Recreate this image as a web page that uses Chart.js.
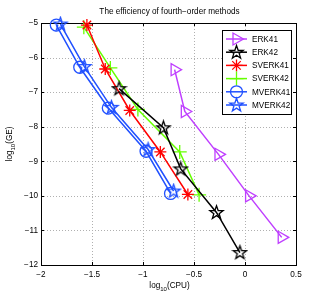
<!DOCTYPE html>
<html>
<head>
<meta charset="utf-8">
<script src="https://cdn.jsdelivr.net/npm/chart.js@4/dist/chart.umd.min.js"></script>
<style>
  html, body { margin: 0; padding: 0; background: #fff; }
  #wrap { width: 327px; height: 300px; position: relative; }
</style>
</head>
<body>
<div id="wrap"><canvas id="chart1"></canvas></div>
<script>
// values (log10 CPU vs log10 GE)
const seriesNames = ["ERK41", "ERK42", "SVERK41", "SVERK42", "MVERK41", "MVERK42"];
const erk41X = [-0.69, -0.59, -0.26, 0.04, 0.36];
const erk41Y = [-6.35, -7.56, -8.8, -10.0, -11.2];
const erk42X = [-1.235, -0.80, -0.63, -0.28, -0.05];
const erk42Y = [-6.9, -8.03, -9.22, -10.48, -11.64];
const sverk41X = [-1.55, -1.37, -1.13, -0.83, -0.56];
const sverk41Y = [-5.06, -6.33, -7.53, -8.73, -9.96];
const sverk42X = [-1.58, -1.32, -1.05, -0.64, -0.45];
const sverk42Y = [-5.12, -6.3, -7.5, -8.73, -9.97];
const mverk41X = [-1.85, -1.62, -1.34, -0.97, -0.73];
const mverk41Y = [-5.06, -6.28, -7.46, -8.71, -9.93];
const mverk42X = [-1.81, -1.575, -1.31, -0.95, -0.70];
const mverk42Y = [-5.03, -6.26, -7.44, -8.66, -9.86];
const xTicks = [-2, -1.5, -1, -0.5, 0, 0.5];
const yTicks = [-12, -11, -10, -9, -8, -7, -6, -5];

const FONT = "'Liberation Sans', Arial, sans-serif";
const colors = ["#bf3fff", "#000000", "#ff0000", "#66ff00", "#2050ff", "#2050ff"];

function pts(xs, ys) {
  return xs.map((x, i) => ({ x: x, y: ys[i] }));
}

// five pointed star marker (chart.js "star" is an asterisk)
function pentagram(color) {
  var c = document.createElement("canvas");
  c.width = 17; c.height = 17;
  var g = c.getContext("2d");
  drawPentagram(g, 8.5, 8.8, 7, color);
  return c;
}
function drawPentagram(g, cx, cy, R, color) {
  var r = R * 0.4;
  g.beginPath();
  for (let i = 0; i < 10; i++) {
    let a = -Math.PI / 2 + i * Math.PI / 5;
    let rr = i % 2 == 0 ? R : r;
    let px = cx + rr * Math.cos(a), py = cy + rr * Math.sin(a);
    if (i == 0) g.moveTo(px, py); else g.lineTo(px, py);
  }
  g.closePath();
  g.strokeStyle = color;
  g.lineWidth = 1.3;
  g.stroke();
}

const blackStar = pentagram(colors[1]);
const blueStar = pentagram(colors[5]);

function ds(i, data, style, radius, rot) {
  return {
    label: seriesNames[i],
    data: data,
    showLine: true,
    borderColor: colors[i],
    backgroundColor: "rgba(0,0,0,0)",
    borderWidth: 1.5,
    pointStyle: style,
    pointRadius: radius,
    pointRotation: rot || 0,
    pointBorderWidth: 1.3,
    pointBorderColor: colors[i],
    pointBackgroundColor: "rgba(0,0,0,0)",
    clip: false
  };
}

function drawMarker(ctx, i, x, y) {
  var c = colors[i];
  ctx.save();
  ctx.strokeStyle = c;
  ctx.lineWidth = 1.3;
  ctx.beginPath();
  if (i == 0) {
    ctx.moveTo(x + 7, y); ctx.lineTo(x - 3.5, y - 6); ctx.lineTo(x - 3.5, y + 6); ctx.closePath();
    ctx.stroke();
  } else if (i == 1 || i == 5) {
    drawPentagram(ctx, x, y + 0.3, 7, c);
  } else if (i == 2) {
    for (let k = 0; k < 4; k++) {
      let a = k * Math.PI / 4;
      ctx.moveTo(x + 6 * Math.cos(a), y + 6 * Math.sin(a));
      ctx.lineTo(x - 6 * Math.cos(a), y - 6 * Math.sin(a));
    }
    ctx.stroke();
  } else if (i == 3) {
    ctx.moveTo(x - 7, y); ctx.lineTo(x + 7, y);
    ctx.moveTo(x, y - 7); ctx.lineTo(x, y + 7);
    ctx.stroke();
  } else if (i == 4) {
    ctx.arc(x, y, 6, 0, Math.PI * 2);
    ctx.stroke();
  }
  ctx.restore();
}

function minus(v) {
  return String(v).replace("-", "\u2212");
}

const framePlugin = {
  id: "frame",
  beforeDatasetsDraw(chart) {
    const ctx = chart.ctx, a = chart.chartArea;
    const xs = chart.scales.x, ys = chart.scales.y;
    ctx.save();
    // dotted grid
    ctx.strokeStyle = "#b0b0b0";
    ctx.lineWidth = 1;
    ctx.setLineDash([1, 2]);
    xTicks.forEach(v => {
      let px = Math.round(xs.getPixelForValue(v)) + 0.5;
      ctx.beginPath(); ctx.moveTo(px, a.top); ctx.lineTo(px, a.bottom); ctx.stroke();
    });
    yTicks.forEach(v => {
      let py = Math.round(ys.getPixelForValue(v)) + 0.5;
      ctx.beginPath(); ctx.moveTo(a.left, py); ctx.lineTo(a.right, py); ctx.stroke();
    });
    ctx.setLineDash([]);
    // inward ticks
    ctx.strokeStyle = "#000";
    xTicks.forEach(v => {
      let px = Math.round(xs.getPixelForValue(v)) + 0.5;
      ctx.beginPath();
      ctx.moveTo(px, a.bottom); ctx.lineTo(px, a.bottom - 3);
      ctx.moveTo(px, a.top); ctx.lineTo(px, a.top + 3);
      ctx.stroke();
    });
    yTicks.forEach(v => {
      let py = Math.round(ys.getPixelForValue(v)) + 0.5;
      ctx.beginPath();
      ctx.moveTo(a.left, py); ctx.lineTo(a.left + 3, py);
      ctx.moveTo(a.right, py); ctx.lineTo(a.right - 3, py);
      ctx.stroke();
    });
    // box
    ctx.strokeRect(Math.round(a.left) + 0.5, Math.round(a.top) + 0.5,
      Math.round(a.right - a.left), Math.round(a.bottom - a.top));
    ctx.restore();
  },
  afterDraw(chart) {
    const ctx = chart.ctx, a = chart.chartArea;
    ctx.save();
    ctx.fillStyle = "#000";
    // title
    ctx.font = "8.2px " + FONT;
    ctx.textAlign = "center";
    ctx.textBaseline = "middle";
    ctx.fillText("The efficiency of fourth\u2212order methods", (a.left + a.right) / 2 + 1, 12);

    // axis labels with subscript
    function subLabel(pre, sub, post, cx, cy) {
      ctx.font = "8.2px " + FONT;
      let w1 = ctx.measureText(pre).width;
      let w3 = ctx.measureText(post).width;
      ctx.font = "6px " + FONT;
      let w2 = ctx.measureText(sub).width;
      let x0 = cx - (w1 + w2 + w3) / 2;
      ctx.textAlign = "left";
      ctx.textBaseline = "alphabetic";
      ctx.font = "8.2px " + FONT;
      ctx.fillText(pre, x0, cy + 3);
      ctx.font = "6px " + FONT;
      ctx.fillText(sub, x0 + w1, cy + 5.5);
      ctx.font = "8.2px " + FONT;
      ctx.fillText(post, x0 + w1 + w2, cy + 3);
    }
    subLabel("log", "10", "(CPU)", (a.left + a.right) / 2 + 1, 285);
    ctx.save();
    ctx.translate(9, (a.top + a.bottom) / 2);
    ctx.rotate(-Math.PI / 2);
    subLabel("log", "10", "(GE)", 0, 0);
    ctx.restore();

    // legend
    const lx = 222.5, ly = 30.5, lw = 69, lh = 84;
    ctx.fillStyle = "#fff";
    ctx.fillRect(lx, ly, lw, lh);
    ctx.strokeStyle = "#000";
    ctx.lineWidth = 1;
    ctx.strokeRect(lx, ly, lw, lh);
    seriesNames.forEach((name, i) => {
      let y = 39 + i * 13.2;
      ctx.strokeStyle = colors[i];
      ctx.lineWidth = 1.5;
      ctx.beginPath(); ctx.moveTo(226, y); ctx.lineTo(247, y); ctx.stroke();
      drawMarker(ctx, i, 236.5, y);
      ctx.fillStyle = "#000";
      ctx.font = "8.2px " + FONT;
      ctx.textAlign = "left";
      ctx.textBaseline = "middle";
      ctx.fillText(name, 252, y + 0.5);
    });
    ctx.restore();
  }
};

const c1 = document.getElementById("chart1").getContext("2d");
const effChart = new Chart(c1, {
  type: "scatter",
  data: {
    datasets: [
      ds(0, pts(erk41X, erk41Y), "triangle", 7, 90),
      ds(1, pts(erk42X, erk42Y), blackStar, 8),
      ds(2, pts(sverk41X, sverk41Y), "star", 6),
      ds(3, pts(sverk42X, sverk42Y), "cross", 7),
      ds(4, pts(mverk41X, mverk41Y), "circle", 6),
      ds(5, pts(mverk42X, mverk42Y), blueStar, 8)
    ]
  },
  options: {
    responsive: true,
    maintainAspectRatio: false,
    animation: false,
    layout: { padding: { top: 23, right: 31, left: 0, bottom: 0 } },
    plugins: {
      legend: { display: false },
      title: { display: false },
      tooltip: { enabled: false }
    },
    scales: {
      x: {
        type: "linear",
        min: -2, max: 0.5,
        afterBuildTicks: s => { s.ticks = xTicks.map(v => ({ value: v })); },
        afterFit: s => { s.height = 35; },
        grid: { display: false, drawTicks: false },
        border: { display: false },
        ticks: {
          padding: 5,
          color: "#000",
          font: { family: FONT, size: 8.2 },
          maxRotation: 0,
          callback: v => minus(v)
        }
      },
      y: {
        type: "linear",
        min: -12, max: -5,
        afterBuildTicks: s => { s.ticks = yTicks.map(v => ({ value: v })); },
        afterFit: s => { s.width = 41; },
        grid: { display: false, drawTicks: false },
        border: { display: false },
        ticks: {
          padding: 3,
          color: "#000",
          font: { family: FONT, size: 8.2 },
          callback: v => minus(v)
        }
      }
    }
  },
  plugins: [framePlugin]
});
</script>
</body>
</html>
